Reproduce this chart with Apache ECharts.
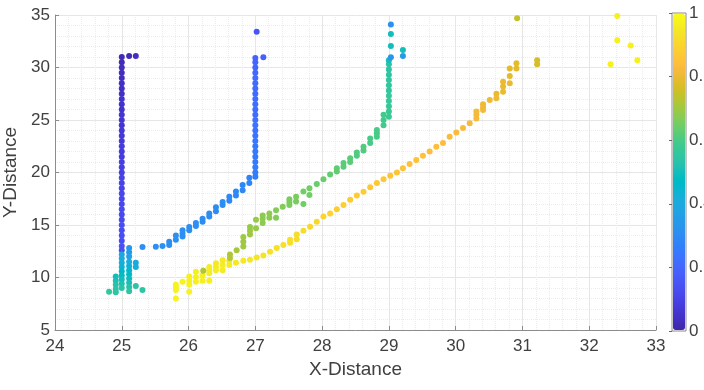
<!DOCTYPE html>
<html>
<head>
<meta charset="utf-8">
<script src="https://cdn.jsdelivr.net/npm/echarts@6/dist/echarts.min.js"></script>
<style>
  html, body { margin: 0; padding: 0; background: #fff; }
  #chart { width: 704px; height: 390px; }
</style>
</head>
<body>
<div id="chart"></div>
<script>
// points are [x, y, colour value]

// dense column at x = 25 (dark purple -> blue)
const col25Y = [31.0, 30.5, 30.0, 29.5, 29.0, 28.5, 28.0, 27.5, 27.0, 26.5, 26.0, 25.5, 25.0, 24.5, 24.0, 23.5, 23.0, 22.5, 22.0,
  21.5, 21.0, 20.5, 20.0, 19.5, 19.0, 18.5, 18.0, 17.5, 17.0, 16.5, 16.0, 15.5, 15.0, 14.5, 14.0, 13.5, 13.0, 12.6];
const col25V = [0.02, 0.02, 0.03, 0.03, 0.03, 0.04, 0.04, 0.04, 0.05, 0.05, 0.05, 0.06, 0.06, 0.06, 0.07, 0.07, 0.07, 0.08, 0.08,
  0.08, 0.09, 0.09, 0.09, 0.10, 0.10, 0.10, 0.11, 0.11, 0.11, 0.12, 0.12, 0.12, 0.13, 0.13, 0.13, 0.13, 0.14, 0.14];
const topDots25 = [[25.11, 31.1, 0.02], [25.21, 31.1, 0.03]];

// teal cluster under the x = 25 column
const tealCluster = [
  [25.0, 12.2, 0.38], [25.0, 11.8, 0.40], [25.0, 11.4, 0.42], [25.0, 11.0, 0.44], [25.0, 10.6, 0.46],
  [25.0, 10.2, 0.48], [25.0, 9.8, 0.50], [25.0, 9.4, 0.52], [25.0, 9.0, 0.54],
  [25.11, 12.8, 0.33], [25.11, 12.4, 0.35], [25.11, 12.0, 0.37], [25.11, 11.5, 0.41], [25.11, 11.1, 0.43],
  [25.11, 10.7, 0.45], [25.11, 10.3, 0.47], [25.11, 9.9, 0.49], [25.11, 9.5, 0.51], [25.11, 9.1, 0.53], [25.11, 8.7, 0.55],
  [24.91, 10.1, 0.50], [24.91, 9.7, 0.51], [24.91, 9.3, 0.53], [24.91, 8.9, 0.54], [24.91, 8.6, 0.55],
  [24.81, 8.65, 0.56],
  [25.21, 11.4, 0.40], [25.21, 11.0, 0.42], [25.21, 9.2, 0.54],
  [25.31, 8.8, 0.55]
];

// blue rising branch
const blueDiag = [
  [25.31, 12.9, 0.31], [25.51, 12.93, 0.31], [25.61, 13.0, 0.31], [25.71, 13.1, 0.31], [25.71, 13.4, 0.31],
  [25.81, 13.6, 0.31], [25.81, 14.0, 0.31], [25.91, 13.9, 0.31], [25.91, 14.2, 0.31], [25.91, 14.5, 0.31],
  [26.01, 14.5, 0.31], [26.01, 14.8, 0.31], [26.11, 14.9, 0.31], [26.11, 15.2, 0.31], [26.21, 15.3, 0.30],
  [26.21, 15.6, 0.30], [26.31, 15.8, 0.30], [26.31, 16.1, 0.30], [26.41, 16.3, 0.30], [26.41, 16.7, 0.30],
  [26.51, 16.9, 0.30], [26.51, 17.2, 0.30], [26.61, 17.3, 0.29], [26.61, 17.7, 0.29], [26.71, 17.8, 0.29],
  [26.71, 18.2, 0.29], [26.81, 18.3, 0.29], [26.81, 18.8, 0.28], [26.91, 19.0, 0.28], [26.91, 19.5, 0.28]
];

// dense column at x = 27
const col27Y = [19.6, 20.0, 20.5, 21.0, 21.5, 22.0, 22.5, 23.0, 23.5, 24.0, 24.5, 25.0, 25.5, 26.0, 26.5, 27.0, 27.5, 28.0,
  28.5, 29.0, 29.5, 30.0, 30.5, 30.9];
const col27V = [0.26, 0.26, 0.26, 0.25, 0.25, 0.25, 0.24, 0.24, 0.24, 0.23, 0.23, 0.23, 0.22, 0.22, 0.22, 0.22, 0.21, 0.21,
  0.21, 0.21, 0.20, 0.20, 0.20, 0.19];
const topDots27 = [[27.02, 33.4, 0.15], [27.12, 30.97, 0.18]];

// green branch
const greenDiag = [
  [26.22, 10.65, 0.72], [26.62, 11.85, 0.72], [26.62, 12.2, 0.72], [26.72, 12.6, 0.71], [26.82, 12.95, 0.70],
  [26.82, 13.4, 0.70], [26.82, 13.85, 0.70], [26.92, 14.1, 0.70], [26.92, 14.45, 0.70], [26.92, 14.8, 0.69],
  [27.01, 14.7, 0.69], [27.01, 15.5, 0.69], [27.11, 15.2, 0.68], [27.11, 15.6, 0.68], [27.11, 15.9, 0.68],
  [27.21, 15.7, 0.68], [27.21, 16.1, 0.68], [27.31, 15.7, 0.67], [27.31, 16.4, 0.67], [27.41, 16.75, 0.67],
  [27.51, 16.9, 0.66], [27.51, 17.2, 0.66], [27.51, 17.45, 0.66], [27.61, 17.25, 0.66], [27.61, 17.7, 0.66],
  [27.72, 17.0, 0.65], [27.72, 18.2, 0.65], [27.81, 17.86, 0.65], [27.81, 18.5, 0.65], [27.92, 18.9, 0.64],
  [28.02, 19.35, 0.64], [28.12, 19.8, 0.63], [28.22, 20.1, 0.63], [28.22, 20.4, 0.63], [28.32, 20.55, 0.62],
  [28.32, 20.9, 0.62], [28.42, 21.0, 0.62], [28.42, 21.35, 0.62], [28.52, 21.6, 0.61], [28.52, 21.9, 0.61],
  [28.62, 22.1, 0.61], [28.62, 22.45, 0.61], [28.72, 22.8, 0.60], [28.72, 23.25, 0.60], [28.82, 23.4, 0.60],
  [28.82, 23.75, 0.60], [28.82, 24.05, 0.60], [28.92, 24.5, 0.59], [28.92, 25.0, 0.59], [28.92, 25.5, 0.59]
];

// dense column at x = 29
const col29Y = [25.3, 25.8, 26.3, 26.8, 27.3, 27.8, 28.3, 28.8, 29.3, 29.8, 30.3, 30.7];
const col29V = [0.58, 0.58, 0.57, 0.57, 0.57, 0.56, 0.56, 0.56, 0.55, 0.55, 0.54, 0.50];
const topDots29 = [[29.03, 34.1, 0.31], [29.03, 33.2, 0.50], [29.03, 32.05, 0.50], [29.03, 30.97, 0.33],
  [29.21, 31.67, 0.50], [29.21, 31.1, 0.35]];

// yellow / orange branch
const yellowDiag = [
  [25.81, 8.0, 0.98], [25.81, 8.8, 0.98], [25.81, 9.05, 0.98], [25.81, 9.3, 0.98], [25.91, 9.6, 0.98],
  [26.01, 8.65, 0.98], [26.01, 9.3, 0.98], [26.01, 9.7, 0.97], [26.01, 10.1, 0.97], [26.11, 9.6, 0.97],
  [26.11, 10.05, 0.97], [26.11, 10.55, 0.97], [26.21, 9.7, 0.97], [26.21, 10.2, 0.97], [26.31, 9.7, 0.97],
  [26.31, 10.4, 0.96], [26.31, 10.7, 0.96], [26.31, 11.0, 0.96], [26.41, 10.7, 0.96], [26.41, 11.0, 0.96],
  [26.41, 11.35, 0.95], [26.51, 10.7, 0.96], [26.51, 11.2, 0.96], [26.51, 11.65, 0.95], [26.61, 11.2, 0.96],
  [26.61, 11.6, 0.95], [26.71, 11.4, 0.95], [26.82, 11.6, 0.95], [26.92, 11.7, 0.95], [27.02, 11.9, 0.94],
  [27.12, 12.1, 0.94], [27.22, 12.45, 0.94], [27.32, 12.8, 0.93], [27.42, 13.1, 0.93], [27.52, 13.3, 0.93],
  [27.52, 13.6, 0.93], [27.62, 13.65, 0.92], [27.62, 14.1, 0.92], [27.72, 14.45, 0.92], [27.82, 14.84, 0.91],
  [27.92, 15.3, 0.91], [28.02, 15.8, 0.90], [28.12, 16.1, 0.90], [28.22, 16.5, 0.89], [28.32, 16.9, 0.89],
  [28.42, 17.4, 0.88], [28.52, 17.8, 0.88], [28.62, 18.17, 0.88], [28.72, 18.6, 0.87], [28.82, 19.0, 0.87],
  [28.92, 19.35, 0.87], [29.02, 19.7, 0.86], [29.12, 20.0, 0.86], [29.21, 20.4, 0.86], [29.31, 20.8, 0.85],
  [29.41, 21.2, 0.85], [29.51, 21.6, 0.85], [29.61, 22.0, 0.84], [29.71, 22.45, 0.84], [29.81, 22.8, 0.84],
  [29.91, 23.4, 0.83], [30.01, 23.8, 0.83], [30.11, 24.25, 0.83], [30.21, 24.7, 0.82], [30.31, 25.15, 0.82],
  [30.31, 25.5, 0.82], [30.31, 25.8, 0.82], [30.41, 25.95, 0.82], [30.41, 26.2, 0.81], [30.41, 26.5, 0.81],
  [30.51, 26.9, 0.81], [30.61, 27.06, 0.81], [30.61, 27.5, 0.80], [30.71, 27.7, 0.80], [30.71, 28.2, 0.80],
  [30.71, 28.65, 0.80], [30.81, 28.5, 0.80], [30.81, 29.2, 0.79], [30.81, 29.9, 0.79], [30.91, 29.9, 0.79],
  [30.91, 30.4, 0.79]
];

const outliers = [[31.22, 30.3, 0.77], [31.22, 30.7, 0.77], [30.92, 34.68, 0.74],
  [32.32, 30.3, 0.97], [32.42, 32.6, 0.97], [32.42, 34.9, 0.97], [32.62, 32.1, 0.97], [32.72, 30.7, 0.97]];

const xTicks = { min: 24, max: 33, step: 1 };
const yTicks = { min: 5, max: 35, step: 5 };
const cbarTicks = { min: 0, max: 1, step: 0.2 };

// MATLAB parula(64)
const parula = [
  [0.2422, 0.1504, 0.6603], [0.2504, 0.1650, 0.7076], [0.2578, 0.1818, 0.7511], [0.2647, 0.1978, 0.7952],
  [0.2706, 0.2147, 0.8364], [0.2751, 0.2342, 0.8710], [0.2783, 0.2559, 0.8991], [0.2803, 0.2782, 0.9221],
  [0.2813, 0.3006, 0.9414], [0.2810, 0.3228, 0.9579], [0.2795, 0.3447, 0.9717], [0.2760, 0.3667, 0.9829],
  [0.2699, 0.3892, 0.9906], [0.2602, 0.4123, 0.9952], [0.2440, 0.4358, 0.9988], [0.2206, 0.4603, 0.9973],
  [0.1963, 0.4847, 0.9892], [0.1834, 0.5074, 0.9798], [0.1786, 0.5289, 0.9682], [0.1764, 0.5499, 0.9520],
  [0.1687, 0.5703, 0.9359], [0.1540, 0.5902, 0.9218], [0.1460, 0.6091, 0.9079], [0.1380, 0.6276, 0.8973],
  [0.1248, 0.6459, 0.8883], [0.1113, 0.6635, 0.8763], [0.0952, 0.6798, 0.8598], [0.0689, 0.6948, 0.8394],
  [0.0297, 0.7082, 0.8163], [0.0036, 0.7203, 0.7917], [0.0067, 0.7312, 0.7660], [0.0433, 0.7411, 0.7394],
  [0.0964, 0.7500, 0.7120], [0.1408, 0.7584, 0.6842], [0.1717, 0.7670, 0.6554], [0.1938, 0.7758, 0.6251],
  [0.2161, 0.7843, 0.5923], [0.2470, 0.7918, 0.5567], [0.2906, 0.7973, 0.5188], [0.3406, 0.8008, 0.4789],
  [0.3909, 0.8029, 0.4354], [0.4456, 0.8024, 0.3909], [0.5044, 0.7993, 0.3480], [0.5616, 0.7942, 0.3045],
  [0.6174, 0.7876, 0.2612], [0.6720, 0.7793, 0.2227], [0.7242, 0.7698, 0.1910], [0.7738, 0.7598, 0.1646],
  [0.8203, 0.7498, 0.1535], [0.8634, 0.7406, 0.1596], [0.9035, 0.7330, 0.1774], [0.9393, 0.7288, 0.2100],
  [0.9728, 0.7298, 0.2394], [0.9956, 0.7434, 0.2371], [0.9970, 0.7659, 0.2199], [0.9952, 0.7893, 0.2028],
  [0.9892, 0.8136, 0.1885], [0.9786, 0.8386, 0.1766], [0.9676, 0.8639, 0.1643], [0.9610, 0.8890, 0.1537],
  [0.9597, 0.9135, 0.1423], [0.9628, 0.9373, 0.1265], [0.9691, 0.9606, 0.1064], [0.9769, 0.9839, 0.0805]
];
const parulaColors = parula.map(function (c) {
  return "rgb(" + c.map(function (v) { return Math.round(v * 255); }).join(",") + ")";
});

function column(x, ys, vs) {
  return ys.map(function (y, i) { return [x, y, vs[i]]; });
}

const groups = [
  column(25.0, col25Y, col25V), topDots25, tealCluster,
  yellowDiag, outliers,
  greenDiag, column(29.0, col29Y, col29V), topDots29,
  blueDiag, column(27.0, col27Y, col27V), topDots27
];

const font = "'Liberation Sans', Arial, Helvetica, sans-serif";
const labelColor = "#404040";
const axisColor = "#8c8c8c";

var chartDom = document.getElementById("chart");
var mychart = echarts.init(chartDom, null, { renderer: "canvas" });

var option = {
  animation: false,
  backgroundColor: "#fff",
  textStyle: { fontFamily: font },
  grid: [
    { left: 55, right: 48, top: 15, bottom: 60, containLabel: false, outerBoundsMode: "none" },
    { left: 672, top: 13, width: 14, height: 318, show: true, borderColor: "#8c8c8c", borderWidth: 1,
      backgroundColor: "transparent", containLabel: false, outerBoundsMode: "none" }
  ],
  xAxis: [
    {
      type: "value", gridIndex: 0,
      min: xTicks.min, max: xTicks.max, interval: xTicks.step,
      name: "X-Distance", nameLocation: "middle", nameGap: 30,
      nameTextStyle: { fontSize: 19, color: labelColor, fontFamily: font },
      axisLine: { show: true, onZero: false, lineStyle: { color: axisColor, width: 1 } },
      axisTick: { show: true, inside: true, length: 4, lineStyle: { color: axisColor } },
      axisLabel: { fontSize: 17, color: labelColor, margin: 8, fontFamily: font },
      splitLine: { show: true, lineStyle: { color: "#e6e6e6", width: 1 } },
      minorTick: { show: false, splitNumber: 5 },
      minorSplitLine: { show: true, lineStyle: { color: "#ececec", width: 1, type: "dotted" } }
    },
    { type: "value", gridIndex: 1, min: 0, max: 1, show: false }
  ],
  yAxis: [
    {
      type: "value", gridIndex: 0,
      min: yTicks.min, max: yTicks.max, interval: yTicks.step,
      name: "Y-Distance", nameLocation: "middle", nameGap: 27,
      nameTextStyle: { fontSize: 19, color: labelColor, fontFamily: font },
      axisLine: { show: true, onZero: false, lineStyle: { color: axisColor, width: 1 } },
      axisTick: { show: true, inside: true, length: 4, lineStyle: { color: axisColor } },
      axisLabel: { fontSize: 17, color: labelColor, margin: 5, fontFamily: font },
      splitLine: { show: true, lineStyle: { color: "#e6e6e6", width: 1 } },
      minorTick: { show: false, splitNumber: 5 },
      minorSplitLine: { show: true, lineStyle: { color: "#ececec", width: 1, type: "dotted" } }
    },
    {
      type: "value", gridIndex: 1, position: "right",
      min: cbarTicks.min, max: cbarTicks.max, interval: cbarTicks.step,
      axisLine: { show: false },
      axisTick: { show: true, inside: true, length: 3, lineStyle: { color: "#666" } },
      axisLabel: { fontSize: 17, color: labelColor, margin: 3, fontFamily: font },
      splitLine: { show: false }
    }
  ],
  visualMap: {
    type: "continuous",
    min: 0, max: 1, dimension: 2,
    seriesIndex: groups.map(function (g, i) { return i; }),
    inRange: { color: parulaColors },
    calculable: false, hoverLink: false,
    left: 673, top: 14, itemWidth: 12, itemHeight: 316,
    padding: 0, text: null, showLabel: false
  },
  series: groups.map(function (g) {
    return {
      type: "scatter",
      xAxisIndex: 0, yAxisIndex: 0,
      symbol: "circle", symbolSize: 6,
      itemStyle: { opacity: 1 },
      data: g
    };
  })
};

mychart.setOption(option);
</script>
</body>
</html>
